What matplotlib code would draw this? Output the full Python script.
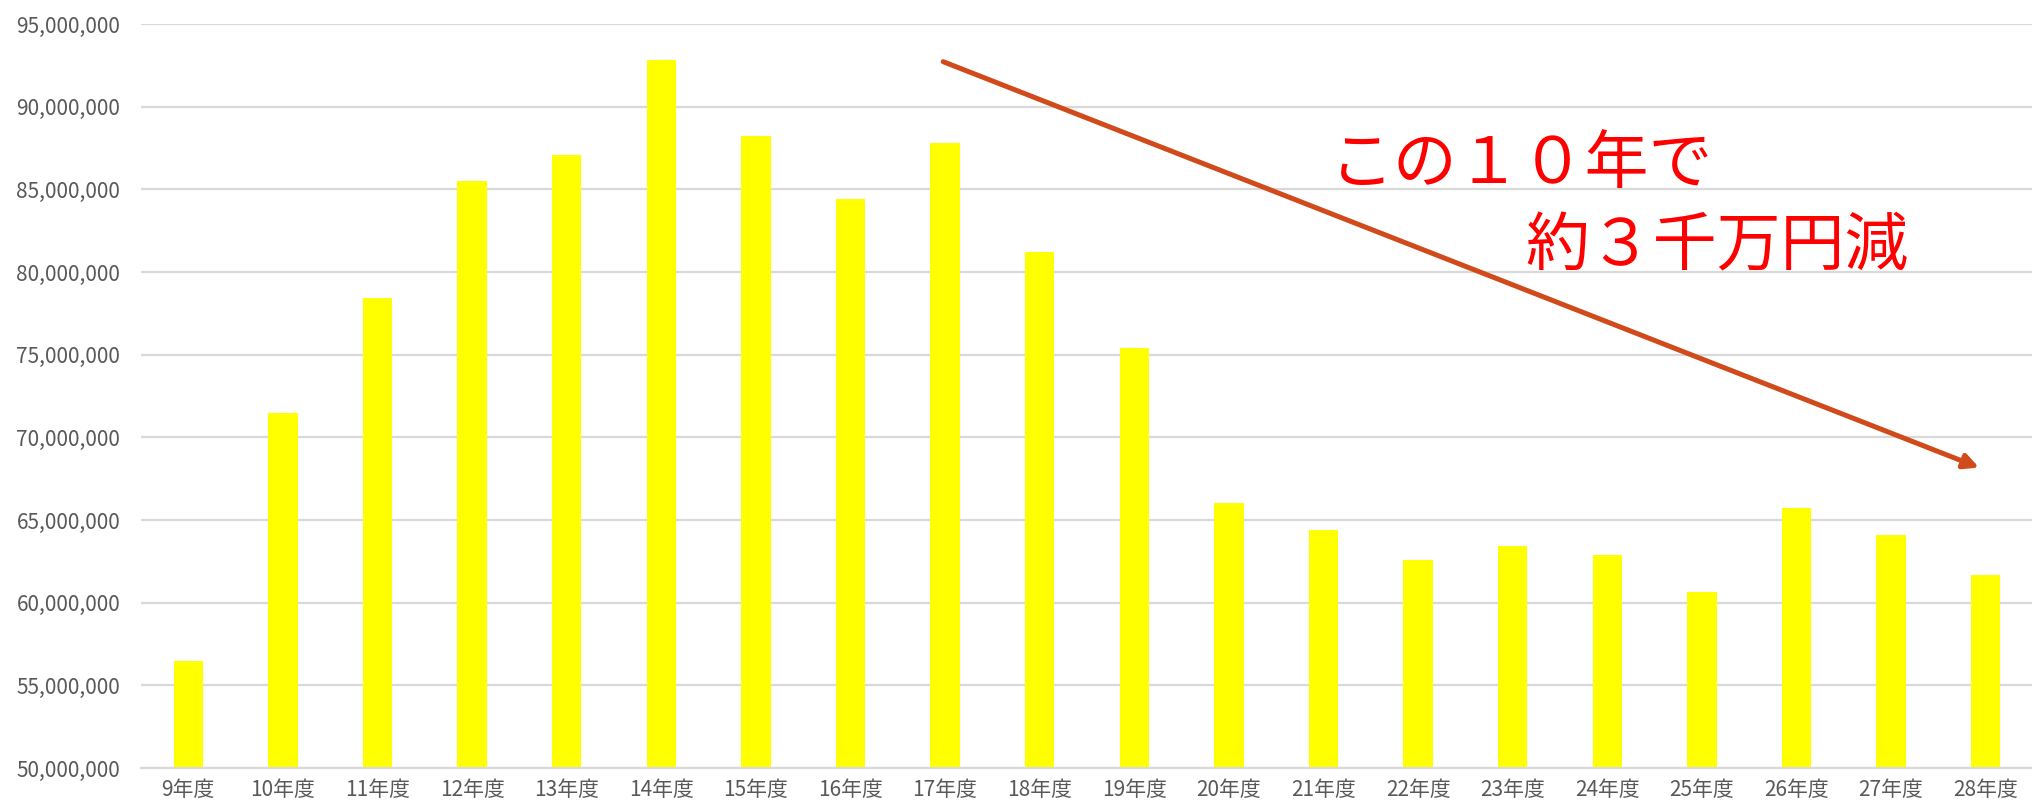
import matplotlib
matplotlib.use("Agg")
import matplotlib.pyplot as plt
from matplotlib.ticker import FuncFormatter, MultipleLocator

plt.rcParams['font.family'] = ['Noto Sans CJK JP', 'DejaVu Sans']

categories = ["9年度", "10年度", "11年度", "12年度", "13年度", "14年度", "15年度",
              "16年度", "17年度", "18年度", "19年度", "20年度", "21年度", "22年度",
              "23年度", "24年度", "25年度", "26年度", "27年度", "28年度"]
values = [56_500_000, 71_500_000, 78_400_000, 85_500_000, 87_100_000, 92_800_000,
          88_250_000, 84_400_000, 87_800_000, 81_200_000, 75_400_000, 66_000_000,
          64_400_000, 62_600_000, 63_400_000, 62_900_000, 60_660_000, 65_700_000,
          64_100_000, 61_650_000]

annotation_line1 = "この１０年で"
annotation_line2 = "約３千万円減"

fig = plt.figure(figsize=(20.33, 8.07), dpi=100)
ax = fig.add_axes([141 / 2033, 1 - 768 / 807, 1 - 141 / 2033, (768 - 24) / 807])

x = list(range(len(categories)))
ax.bar(x, values, width=0.31, color="#FFFF00", zorder=2)

ax.set_xlim(-0.5, len(categories) - 0.5)
ax.set_ylim(50_000_000, 95_000_000)
ax.yaxis.set_major_locator(MultipleLocator(5_000_000))
ax.yaxis.set_major_formatter(FuncFormatter(lambda v, p: f"{int(v):,}"))
ax.set_xticks(x)
ax.set_xticklabels(categories)

ax.grid(axis="y", color="#D9D9D9", linewidth=1.6, zorder=0)
ax.set_axisbelow(True)
for s in ["top", "right", "left"]:
    ax.spines[s].set_visible(False)
ax.spines["bottom"].set_color("#D9D9D9")
ax.spines["bottom"].set_linewidth(1.6)
ax.spines["bottom"].set_zorder(3)

ax.tick_params(axis="y", length=0, pad=15, labelsize=15, labelcolor="#595959")
ax.tick_params(axis="x", length=0, pad=8, labelsize=15, labelcolor="#595959")

ax.annotate("", xy=(18.93, 68_170_000), xytext=(7.98, 92_720_000),
            arrowprops=dict(arrowstyle="-|>", color="#D04A1B", lw=3.6,
                            mutation_scale=22, shrinkA=0, shrinkB=0),
            zorder=5)

ax.text(12.07, 86_500_000, annotation_line1, color="#FF0000", fontsize=46,
        ha="left", va="center", zorder=6)
ax.text(14.13, 81_500_000, annotation_line2, color="#FF0000", fontsize=46,
        ha="left", va="center", zorder=6)

fig.savefig("out.png", dpi=100)
